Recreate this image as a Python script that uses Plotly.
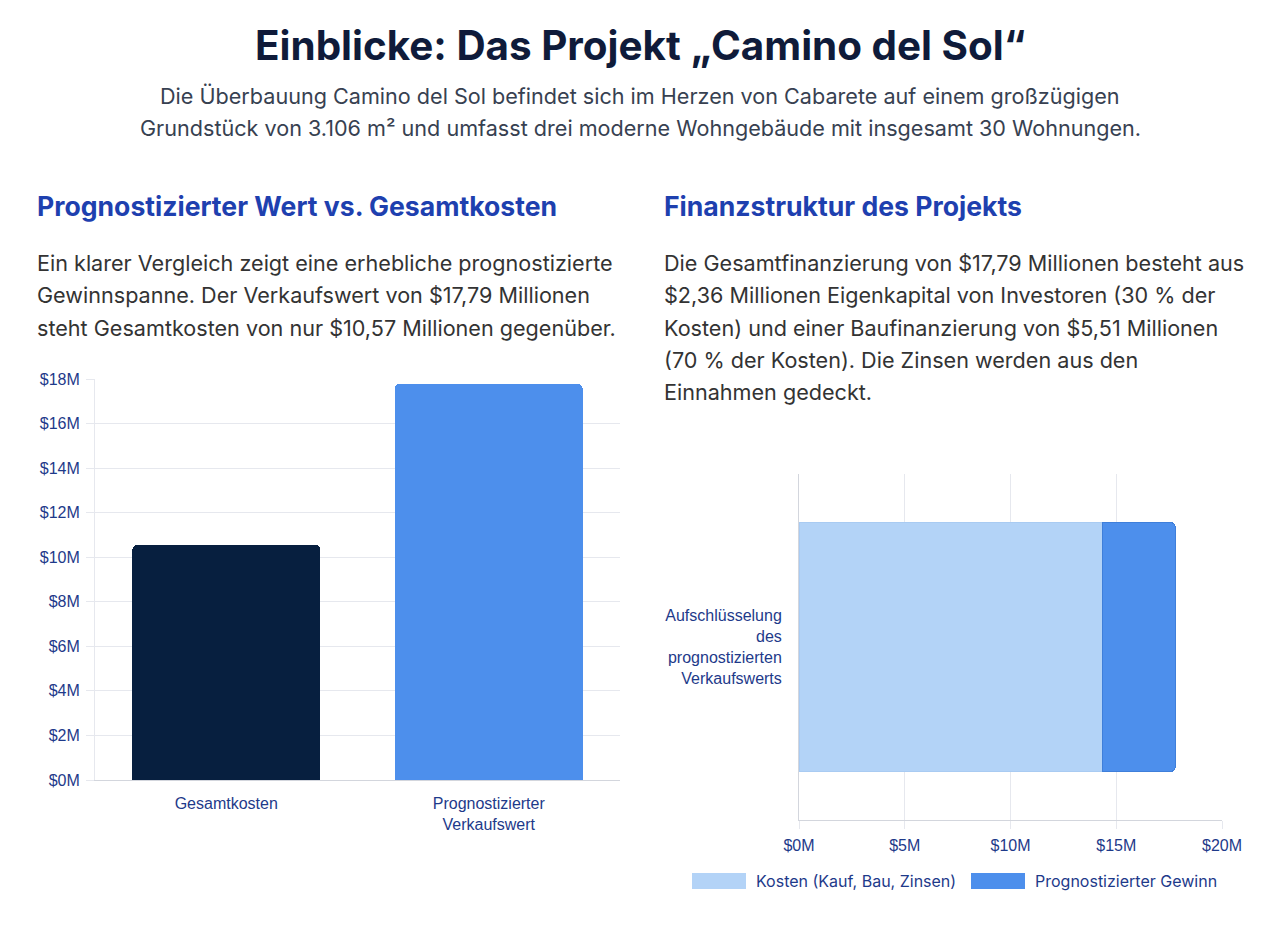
import plotly.graph_objects as go

W, H = 1280, 928

# ---- data ----
cmp_categories = ["Gesamtkosten", "Prognostizierter<br>Verkaufswert"]
cmp_values = [10.57, 17.79]  # millions USD
cmp_colors = ["#071F3F", "#4D8FEC"]

struct_category = ["Aufschlüsselung<br>des<br>prognostizierten<br>Verkaufswerts"]
struct_costs = [14.37]
struct_profit = [3.42]
struct_names = ["Kosten (Kauf, Bau, Zinsen)", "Prognostizierter Gewinn"]
struct_colors = ["#B3D3F7", "#4D8FEC"]

title = "Einblicke: Das Projekt „Camino del Sol“"
subtitle_lines = [
    "Die Überbauung Camino del Sol befindet sich im Herzen von Cabarete auf einem großzügigen",
    "Grundstück von 3.106 m² und umfasst drei moderne Wohngebäude mit insgesamt 30 Wohnungen.",
]
left_heading = "Prognostizierter Wert vs. Gesamtkosten"
left_lines = [
    "Ein klarer Vergleich zeigt eine erhebliche prognostizierte",
    "Gewinnspanne. Der Verkaufswert von $17,79 Millionen",
    "steht Gesamtkosten von nur $10,57 Millionen gegenüber.",
]
right_heading = "Finanzstruktur des Projekts"
right_lines = [
    "Die Gesamtfinanzierung von $17,79 Millionen besteht aus",
    "$2,36 Millionen Eigenkapital von Investoren (30 % der",
    "Kosten) und einer Baufinanzierung von $5,51 Millionen",
    "(70 % der Kosten). Die Zinsen werden aus den",
    "Einnahmen gedeckt.",
]


def px(x):
    return x / W


def py(y):
    return 1 - y / H


TICK_FONT = dict(family="Liberation Sans, Arial, sans-serif", size=16, color="#1E3A8A")
GRID = "#E6E8EE"
AXIS = "#D3D6DD"

fig = go.Figure()

fig.add_trace(go.Bar(
    x=cmp_categories, y=cmp_values,
    marker=dict(color=cmp_colors, cornerradius=5, line=dict(width=0)),
    width=0.715, xaxis="x", yaxis="y", showlegend=False,
    hovertemplate="%{x}: $%{y}M<extra></extra>",
))

fig.add_trace(go.Bar(
    y=struct_category, x=struct_costs, orientation="h", name=struct_names[0],
    marker=dict(color=struct_colors[0], line=dict(width=1, color="#A9CBF2")),
    width=0.72, xaxis="x2", yaxis="y2", showlegend=False,
))
fig.add_trace(go.Bar(
    y=struct_category, x=struct_profit, orientation="h", name=struct_names[1],
    marker=dict(color=struct_colors[1], line=dict(width=1, color="#3F7FDA")),
    width=0.72, xaxis="x2", yaxis="y2", showlegend=False,
))

fig.update_layout(
    width=W, height=H,
    margin=dict(l=0, r=0, t=0, b=0, autoexpand=False),
    paper_bgcolor="white", plot_bgcolor="white",
    barmode="stack", barcornerradius=5,
    font=dict(family="Inter, sans-serif"),
    xaxis=dict(
        domain=[px(95), px(620)], anchor="y", automargin=False,
        tickfont=TICK_FONT, showgrid=False, showline=True, linecolor=AXIS,
        ticks="", ticklabelstandoff=9, fixedrange=True,
    ),
    yaxis=dict(
        domain=[py(780), py(379)], anchor="x", range=[0, 18], dtick=2, automargin=False,
        tickprefix="$", ticksuffix="M", tickfont=TICK_FONT,
        showgrid=True, gridcolor=GRID, zeroline=False,
        showline=True, linecolor=GRID, ticks="outside", ticklen=8, tickcolor=GRID,
        ticklabelstandoff=3, fixedrange=True,
    ),
    xaxis2=dict(
        domain=[px(799), px(1222)], anchor="y2", range=[0, 20], dtick=5, automargin=False,
        tickprefix="$", ticksuffix="M", tickfont=TICK_FONT,
        showgrid=True, gridcolor=GRID, zeroline=False,
        showline=True, linecolor=AXIS, ticks="outside", ticklen=8, tickcolor=GRID,
        ticklabelstandoff=3, fixedrange=True,
    ),
    yaxis2=dict(
        domain=[py(820), py(474)], anchor="x2", range=[-0.5, 0.5], automargin=False,
        tickfont=TICK_FONT, showgrid=False, showline=True, linecolor=AXIS,
        ticks="", ticklabelstandoff=13, fixedrange=True,
    ),
)

ann = []
ann.append(dict(text=title, x=0.5, y=py(45), xref="paper", yref="paper",
                xanchor="center", yanchor="middle", showarrow=False,
                font=dict(family="Inter, sans-serif", size=40.4, color="#0F1B3A", weight=700)))
for i, line in enumerate(subtitle_lines):
    ann.append(dict(text=line, x=0.5, y=py(96 + 32 * i), xref="paper", yref="paper",
                    xanchor="center", yanchor="middle", showarrow=False,
                    font=dict(family="Inter, sans-serif", size=21.6, color="#374151")))
for heading, x0 in [(left_heading, 35), (right_heading, 662)]:
    ann.append(dict(text=heading, x=px(x0), y=py(206), xref="paper", yref="paper",
                    xanchor="left", yanchor="middle", showarrow=False,
                    font=dict(family="Inter, sans-serif", size=26.6, color="#1E40AF", weight=700)))
for lines, x0 in [(left_lines, 35), (right_lines, 662)]:
    for i, line in enumerate(lines):
        ann.append(dict(text=line, x=px(x0), y=py(263 + 32.3 * i), xref="paper", yref="paper",
                        xanchor="left", yanchor="middle", showarrow=False,
                        font=dict(family="Inter, sans-serif", size=21.6, color="#333333")))

# legend (manual)
shapes = []
legend_items = [(692, struct_names[0], struct_colors[0]), (971, struct_names[1], struct_colors[1])]
for x0, name, col in legend_items:
    shapes.append(dict(type="rect", xref="paper", yref="paper",
                       x0=px(x0), x1=px(x0 + 54), y0=py(889), y1=py(873),
                       fillcolor=col, line=dict(width=0)))
    ann.append(dict(text=name, x=px(x0 + 62), y=py(881), xref="paper", yref="paper",
                    xanchor="left", yanchor="middle", showarrow=False,
                    font=dict(family="Inter, sans-serif", size=16, color="#1E3A8A")))

fig.update_layout(annotations=ann, shapes=shapes)

fig.write_html("out.html")
